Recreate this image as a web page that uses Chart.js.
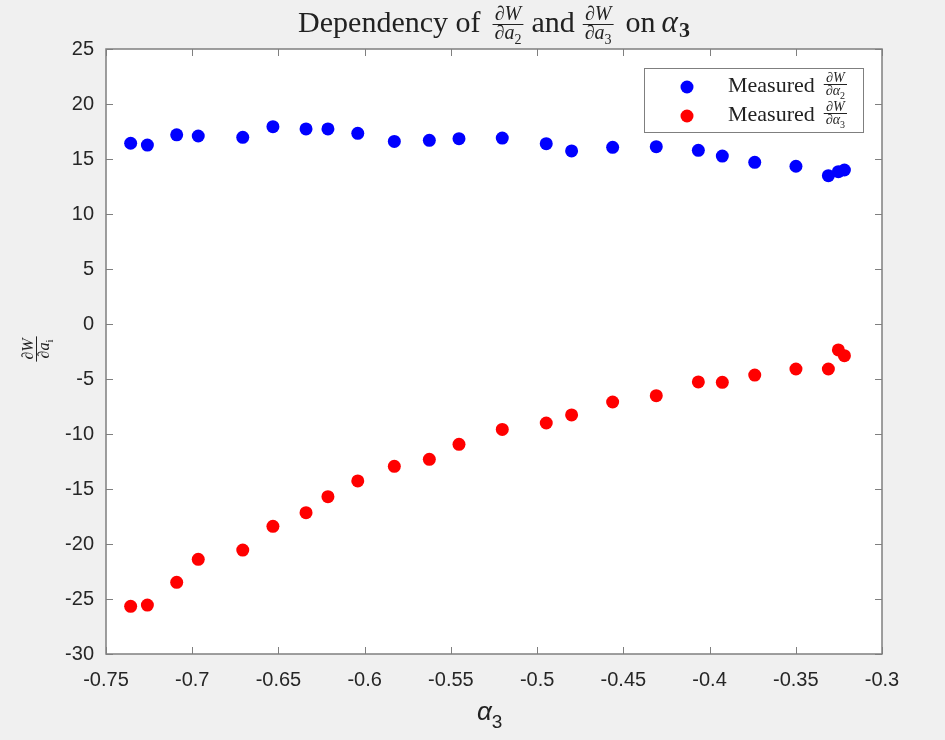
<!DOCTYPE html>
<html lang="en">
<head>
    <meta charset="UTF-8">
    <title>Dependency of dW/da2 and dW/da3 on alpha3</title>
    <script src="https://cdn.jsdelivr.net/npm/chart.js"></script>
    <style>
        body { margin: 0; background: #f0f0f0; }
        canvas { display: block; }
    </style>
</head>
<body>
    <canvas id="myChart" width="945" height="740"></canvas>

    <script>
        // alpha_3 values (x) and the two measured derivatives
        const alpha3 = [-0.7357, -0.7260, -0.7090, -0.6965, -0.6707, -0.6532, -0.6340, -0.6213,
                        -0.6040, -0.5828, -0.5625, -0.5453, -0.5202, -0.4947, -0.4800, -0.4562,
                        -0.4309, -0.4065, -0.3926, -0.3738, -0.3499, -0.3311, -0.3253, -0.3218];
        const dWda2 = [16.43, 16.27, 17.20, 17.09, 16.97, 17.94, 17.73, 17.73,
                       17.33, 16.60, 16.70, 16.85, 16.90, 16.39, 15.73, 16.06,
                       16.12, 15.79, 15.27, 14.70, 14.34, 13.48, 13.85, 14.00];
        const dWda3 = [-25.67, -25.55, -23.48, -21.39, -20.55, -18.39, -17.15, -15.70,
                       -14.27, -12.94, -12.30, -10.94, -9.58, -9.00, -8.27, -7.09,
                       -6.52, -5.27, -5.30, -4.64, -4.09, -4.09, -2.36, -2.88];

        const xMin = -0.75, xMax = -0.3, xStep = 0.05;
        const yMin = -30, yMax = 25, yStep = 5;

        const serif = '"Liberation Serif", "Times New Roman", serif';
        const sans = '"Liberation Sans", Arial, sans-serif';
        const axisGray = '#7f7f7f';

        // little helpers to draw text pieces / fractions (latex-ish)
        function runsWidth(ctx, runs) {
            let w = 0;
            runs.forEach(r => { ctx.font = r.f; w += ctx.measureText(r.t).width + (r.gap || 0); });
            return w;
        }
        function drawRuns(ctx, runs, x, y) {
            runs.forEach(r => {
                ctx.font = r.f;
                ctx.fillText(r.t, x, y + (r.dy || 0));
                x += ctx.measureText(r.t).width + (r.gap || 0);
            });
            return x;
        }
        function fracWidth(ctx, num, den) {
            return Math.max(runsWidth(ctx, num), runsWidth(ctx, den)) + 4;
        }
        function drawFrac(ctx, num, den, x, yBar, numUp, denDown) {
            const wn = runsWidth(ctx, num), wd = runsWidth(ctx, den);
            const w = Math.max(wn, wd) + 4;
            drawRuns(ctx, num, x + (w - wn) / 2, yBar - numUp);
            drawRuns(ctx, den, x + (w - wd) / 2, yBar + denDown);
            ctx.beginPath();
            ctx.moveTo(x, yBar + 0.5);
            ctx.lineTo(x + w, yBar + 0.5);
            ctx.lineWidth = 1;
            ctx.stroke();
            return w;
        }

        function dFrac(size, denVar) {
            const up = size + 'px ' + serif;
            const it = 'italic ' + size + 'px ' + serif;
            const sub = Math.round(size * 0.7) + 'px ' + serif;
            return {
                num: [{ t: '\u2202', f: up }, { t: 'W', f: it }],
                den: [{ t: '\u2202', f: up }, { t: denVar[0], f: it }, { t: denVar[1], f: sub, dy: size * 0.25 }]
            };
        }

        const mathPlugin = {
            id: 'mathPlugin',
            beforeDraw(chart) {
                const { ctx, chartArea: a } = chart;
                ctx.save();
                ctx.fillStyle = '#ffffff';
                ctx.fillRect(a.left, a.top, a.right - a.left, a.bottom - a.top);
                ctx.restore();
            },
            afterDraw(chart) {
                const { ctx, chartArea: a, scales } = chart;
                ctx.save();

                // box + inward ticks on all four sides
                ctx.strokeStyle = axisGray;
                ctx.lineWidth = 1.5;
                ctx.strokeRect(a.left, a.top, a.right - a.left, a.bottom - a.top);
                ctx.lineWidth = 1;
                const tl = 7;
                scales.x.ticks.forEach(t => {
                    const px = Math.round(scales.x.getPixelForValue(t.value)) + 0.5;
                    ctx.beginPath();
                    ctx.moveTo(px, a.bottom); ctx.lineTo(px, a.bottom - tl);
                    ctx.moveTo(px, a.top); ctx.lineTo(px, a.top + tl);
                    ctx.stroke();
                });
                scales.y.ticks.forEach(t => {
                    const py = Math.round(scales.y.getPixelForValue(t.value)) + 0.5;
                    ctx.beginPath();
                    ctx.moveTo(a.left, py); ctx.lineTo(a.left + tl, py);
                    ctx.moveTo(a.right, py); ctx.lineTo(a.right - tl, py);
                    ctx.stroke();
                });

                ctx.fillStyle = '#222222';
                ctx.strokeStyle = '#222222';
                ctx.textBaseline = 'alphabetic';
                ctx.textAlign = 'left';

                // title
                const tf = '30px ' + serif;
                const f2 = dFrac(20, ['a', '2']);
                const f3 = dFrac(20, ['a', '3']);
                const parts = [
                    { t: 'Dependency of', f: tf, gap: 12 }, f2, { t: 'and', f: tf, gap: 8, pre: 8 }, f3,
                    { t: 'on', f: tf, gap: 6, pre: 12 },
                    { t: '\u03B1', f: 'italic 31px ' + serif, gap: 1 }, { t: '3', f: 'bold 22px ' + serif, dy: 5 }
                ];
                let total = 0;
                parts.forEach(p => { total += (p.pre || 0) + (p.num ? fracWidth(ctx, p.num, p.den) : runsWidth(ctx, [p])); });
                let x = (a.left + a.right) / 2 - total / 2;
                const base = 32;
                parts.forEach(p => {
                    x += p.pre || 0;
                    if (p.num) x += drawFrac(ctx, p.num, p.den, x, 24, 4, 15);
                    else x = drawRuns(ctx, [p], x, base);
                });

                // y axis label (rotated fraction)
                ctx.save();
                ctx.translate(36, 349);
                ctx.rotate(-Math.PI / 2);
                const fy = dFrac(16, ['a', 'i']);
                const wy = fracWidth(ctx, fy.num, fy.den);
                drawFrac(ctx, fy.num, fy.den, -wy / 2, 0, 3, 13);
                ctx.restore();

                // x axis label
                drawRuns(ctx, [
                    { t: '\u03B1', f: 'italic 26px ' + sans },
                    { t: '3', f: '19px ' + sans, dy: 8 }
                ], 477, 720);

                // legend
                const lx = 644, ly = 68, lw = 219, lh = 64;
                ctx.fillStyle = '#ffffff';
                ctx.fillRect(lx, ly, lw, lh);
                ctx.strokeStyle = axisGray;
                ctx.lineWidth = 1;
                ctx.strokeRect(lx + 0.5, ly + 0.5, lw, lh);
                const rows = [
                    { c: '#0000ff', y: 87, d: ['\u03B1', '2'] },
                    { c: '#ff0000', y: 116, d: ['\u03B1', '3'] }
                ];
                rows.forEach(r => {
                    ctx.fillStyle = r.c;
                    ctx.beginPath();
                    ctx.arc(687, r.y, 6.5, 0, Math.PI * 2);
                    ctx.fill();
                    ctx.fillStyle = '#222222';
                    ctx.strokeStyle = '#222222';
                    const ex = drawRuns(ctx, [{ t: 'Measured', f: '22px ' + serif }], 728, r.y + 5);
                    const lf = dFrac(14, r.d);
                    drawFrac(ctx, lf.num, lf.den, ex + 9, r.y - 3, 2, 11);
                });

                ctx.restore();
            }
        };

        const ctx = document.getElementById('myChart').getContext('2d');
        const myChart = new Chart(ctx, {
            type: 'scatter',
            data: {
                datasets: [
                    {
                        label: 'Measured dW/da2',
                        data: alpha3.map((a, i) => ({ x: a, y: dWda2[i] })),
                        backgroundColor: '#0000ff',
                        borderWidth: 0,
                        pointRadius: 6.5
                    },
                    {
                        label: 'Measured dW/da3',
                        data: alpha3.map((a, i) => ({ x: a, y: dWda3[i] })),
                        backgroundColor: '#ff0000',
                        borderWidth: 0,
                        pointRadius: 6.5
                    }
                ]
            },
            options: {
                responsive: false,
                devicePixelRatio: 1,
                animation: false,
                layout: { padding: { left: 0, right: 63, top: 49, bottom: 0 } },
                plugins: {
                    legend: { display: false },
                    tooltip: { enabled: false }
                },
                scales: {
                    x: {
                        type: 'linear',
                        min: xMin,
                        max: xMax,
                        grid: { display: false, drawTicks: false },
                        border: { display: false },
                        afterFit: s => { s.height = 86; },
                        ticks: {
                            stepSize: xStep,
                            padding: 14,
                            color: '#262626',
                            font: { family: sans, size: 20 },
                            maxRotation: 0,
                            callback: v => String(+v.toFixed(2))
                        }
                    },
                    y: {
                        type: 'linear',
                        min: yMin,
                        max: yMax,
                        grid: { display: false, drawTicks: false },
                        border: { display: false },
                        afterFit: s => { s.width = 106; },
                        ticks: {
                            stepSize: yStep,
                            padding: 12,
                            color: '#262626',
                            font: { family: sans, size: 20 },
                            callback: v => String(v)
                        }
                    }
                }
            },
            plugins: [mathPlugin]
        });
    </script>
</body>
</html>
